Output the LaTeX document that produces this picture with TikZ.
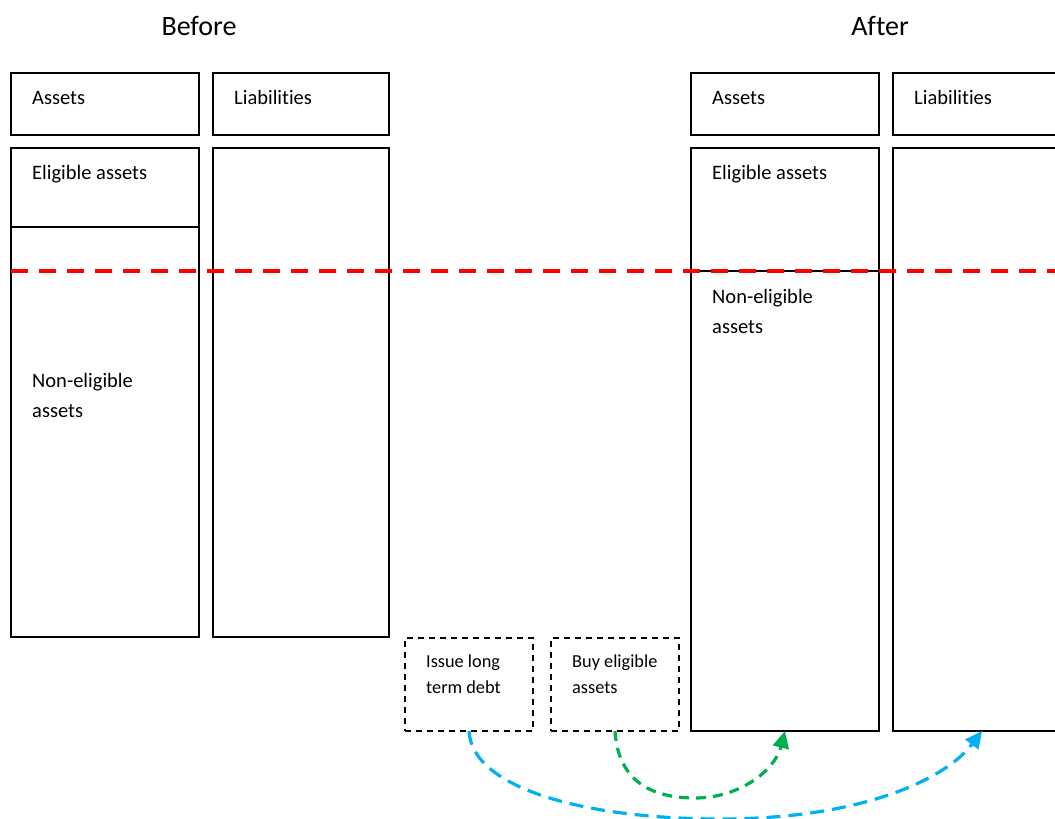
\documentclass[tikz,border=0pt]{standalone}
\usepackage{fontspec}
\setmainfont{Carlito}[Ligatures={NoCommon,NoRare,NoContextual}]
\usetikzlibrary{arrows.meta}
\definecolor{redline}{RGB}{255,0,0}
\definecolor{bluearr}{RGB}{0,176,240}
\definecolor{greenarr}{RGB}{0,176,80}
\tikzset{
  box/.style={draw=black, line width=2.2pt, rectangle, anchor=north west, outer sep=0pt, inner sep=0pt},
  stepbox/.style={draw=black, line width=2pt, dash pattern=on 6pt off 5pt, rectangle, anchor=north west, outer sep=0pt, inner sep=0pt, minimum width=128pt, minimum height=93pt},
  txt/.style={anchor=base west, inner sep=0pt, font=\fontsize{20.5}{25}\selectfont},
  smalltxt/.style={anchor=base west, inner sep=0pt, font=\fontsize{18.3}{22}\selectfont},
  titletxt/.style={anchor=base, inner sep=0pt, font=\fontsize{28}{33}\selectfont},
  divider/.style={draw=black, line width=1.8pt},
  reddash/.style={draw=redline, line width=3.8pt, dash pattern=on 17pt off 11pt},
  bluecurve/.style={draw=bluearr, line width=3.2pt, dash pattern=on 14pt off 8pt, -{Triangle[length=17pt,width=16pt]}},
  greencurve/.style={draw=greenarr, line width=3.2pt, dash pattern=on 10pt off 7pt, -{Triangle[length=17pt,width=16pt]}},
}
\begin{document}
\begin{tikzpicture}[x=1pt,y=-1pt]
\useasboundingbox (0,0) rectangle (1055,819);

% titles
\node[titletxt] (tBefore) at (199,35) {Before};
\node[titletxt] (tAfter) at (880,35) {After};

% Before: headers
\node[box, minimum width=188pt, minimum height=62pt] (bAh) at (11,73) {};
\node[box, minimum width=176pt, minimum height=62pt] (bLh) at (213,73) {};
% Before: bodies
\node[box, minimum width=188pt, minimum height=489pt] (bAb) at (11,148) {};
\node[box, minimum width=176pt, minimum height=489pt] (bLb) at (213,148) {};
\draw[divider] (bAb.west |- 0,227) -- (bAb.east |- 0,227);

% After: headers
\node[box, minimum width=188pt, minimum height=62pt] (aAh) at (691,73) {};
\node[box, minimum width=178pt, minimum height=62pt] (aLh) at (893,73) {};
% After: bodies
\node[box, minimum width=188pt, minimum height=583pt] (aAb) at (691,148) {};
\node[box, minimum width=178pt, minimum height=583pt] (aLb) at (893,148) {};
\draw[divider] (aAb.west |- 0,271) -- (aAb.east |- 0,271);

% texts
\node[txt] (t1) at (32,104) {Assets};
\node[txt] (t2) at (234,104) {Liabilit\kern0pt ies};
\node[txt] (t3) at (32,179) {Eligible assets};
\node[txt] (t4) at (32,387) {Non-eligible};
\node[txt] (t5) at (32,417) {assets};
\node[txt] (t6) at (712,104) {Assets};
\node[txt] (t7) at (914,104) {Liabilit\kern0pt ies};
\node[txt] (t8) at (712,179) {Eligible assets};
\node[txt] (t9) at (712,303) {Non-eligible};
\node[txt] (t10) at (712,333) {assets};

% dashed action boxes
\node[stepbox] (issue) at (405,638) {};
\node[stepbox] (buy) at (551,638) {};
\node[smalltxt] (s1) at (426,667) {Issue long};
\node[smalltxt] (s2) at (426,693) {term debt};
\node[smalltxt] (s3) at (572,667) {Buy eligible};
\node[smalltxt] (s4) at (572,693) {assets};

% red threshold line
\draw[reddash] (bAb.west |- 0,271) -- (1062,271);

% arrows
\draw[bluecurve] (issue.south) .. controls (472,790) and (590,819) .. (720,819)
                 .. controls (860,819) and (945,780) .. (aLb.south);
\draw[greencurve] (buy.south) .. controls (618,780) and (650,798) .. (695,798)
                  .. controls (740,798) and (775,770) .. (aAb.south);
\end{tikzpicture}
\end{document}
